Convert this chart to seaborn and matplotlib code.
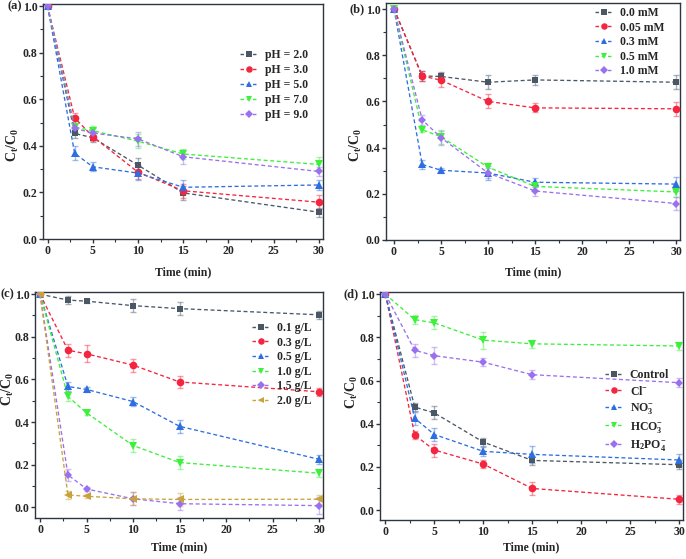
import numpy as np
import matplotlib
matplotlib.use("Agg")
import matplotlib.pyplot as plt
import seaborn as sns
from matplotlib.ticker import MultipleLocator, AutoMinorLocator
from matplotlib.lines import Line2D

sns.set_theme(style="ticks")
plt.rcParams['font.family'] = ['Liberation Serif', 'DejaVu Serif']
plt.rcParams['font.weight'] = 'bold'
plt.rcParams['mathtext.fontset'] = 'custom'
plt.rcParams['mathtext.rm'] = 'Liberation Serif:bold'
plt.rcParams['mathtext.it'] = 'Liberation Serif:bold'
plt.rcParams['mathtext.bf'] = 'Liberation Serif:bold'

time = [0, 3, 5, 10, 15, 30]

# (a) pH
a_labels = ["pH = 2.0", "pH = 3.0", "pH = 5.0", "pH = 7.0", "pH = 9.0"]
a_vals = [
    [1.0, 0.453, 0.435, 0.317, 0.198, 0.115],
    [1.0, 0.520, 0.440, 0.287, 0.207, 0.158],
    [1.0, 0.368, 0.310, 0.283, 0.222, 0.232],
    [1.0, 0.480, 0.465, 0.420, 0.365, 0.320],
    [1.0, 0.475, 0.455, 0.430, 0.353, 0.290],
]
a_err = [
    [0.0, 0.02, 0.02, 0.03, 0.03, 0.02],
    [0.0, 0.02, 0.02, 0.03, 0.03, 0.03],
    [0.0, 0.03, 0.02, 0.03, 0.03, 0.02],
    [0.0, 0.02, 0.02, 0.03, 0.02, 0.03],
    [0.0, 0.02, 0.02, 0.03, 0.03, 0.02],
]

# (b) concentration
b_labels = ["0.0 mM", "0.05 mM", "0.3 mM", "0.5 mM", "1.0 mM"]
b_vals = [
    [1.0, 0.710, 0.708, 0.683, 0.693, 0.683],
    [1.0, 0.710, 0.692, 0.600, 0.572, 0.568],
    [1.0, 0.327, 0.302, 0.290, 0.250, 0.242],
    [1.0, 0.477, 0.447, 0.315, 0.232, 0.208],
    [1.0, 0.520, 0.443, 0.290, 0.212, 0.158],
]
b_err = [
    [0.0, 0.02, 0.02, 0.03, 0.02, 0.03],
    [0.0, 0.02, 0.03, 0.03, 0.02, 0.03],
    [0.0, 0.02, 0.01, 0.03, 0.02, 0.03],
    [0.0, 0.01, 0.03, 0.02, 0.02, 0.02],
    [0.0, 0.02, 0.03, 0.02, 0.02, 0.03],
]

# (c) dosage
c_labels = ["0.1 g/L", "0.3 g/L", "0.5 g/L", "1.0 g/L", "1.5 g/L", "2.0 g/L"]
c_vals = [
    [1.0, 0.972, 0.967, 0.946, 0.932, 0.903],
    [1.0, 0.737, 0.720, 0.667, 0.588, 0.542],
    [1.0, 0.567, 0.553, 0.496, 0.380, 0.225],
    [1.0, 0.520, 0.443, 0.290, 0.210, 0.160],
    [1.0, 0.152, 0.086, 0.040, 0.017, 0.008],
    [1.0, 0.058, 0.052, 0.040, 0.037, 0.038],
]
c_err = [
    [0.0, 0.02, 0.01, 0.03, 0.03, 0.02],
    [0.0, 0.03, 0.04, 0.03, 0.03, 0.02],
    [0.0, 0.02, 0.01, 0.02, 0.03, 0.02],
    [0.0, 0.02, 0.01, 0.03, 0.03, 0.02],
    [0.0, 0.03, 0.01, 0.03, 0.03, 0.04],
    [0.0, 0.02, 0.01, 0.03, 0.03, 0.02],
]

# (d) anions
d_labels = ["Control", r"Cl$^{-}$", r"NO$_{3}^{-}$", r"HCO$_{3}^{-}$", r"H$_{2}$PO$_{4}^{-}$"]
d_vals = [
    [1.0, 0.477, 0.450, 0.315, 0.230, 0.210],
    [1.0, 0.347, 0.278, 0.213, 0.100, 0.050],
    [1.0, 0.425, 0.350, 0.272, 0.258, 0.232],
    [1.0, 0.882, 0.867, 0.787, 0.770, 0.760],
    [1.0, 0.740, 0.715, 0.685, 0.627, 0.590],
]
d_err = [
    [0.0, 0.02, 0.03, 0.02, 0.02, 0.02],
    [0.0, 0.02, 0.03, 0.02, 0.03, 0.02],
    [0.0, 0.03, 0.03, 0.02, 0.04, 0.03],
    [0.0, 0.02, 0.03, 0.04, 0.02, 0.02],
    [0.0, 0.03, 0.04, 0.02, 0.02, 0.02],
]

colors = ['#4a5866', '#f5243f', '#2d6ee0', '#3cf03c', '#9a70ee', '#c9a23c']
markers = ['s', 'o', '^', 'v', 'D', '<']
msizes = [4.5, 5.5, 5.5, 5.5, 4.5, 5.5]
spine_col = '#2e3440'

W, H = 686, 559
fig = plt.figure(figsize=(W / 100, H / 100), dpi=100)

def fx(px):
    return px / W

def fy(py):
    return 1 - py / H

panels = [
    dict(box=(43, 4, 323, 239), labels=a_labels, vals=a_vals, err=a_err, xlim=(-0.5, 30.45), ylim=(0, 1.009),
         tag='(a)', ylab=(-30, 145), xlab_y=272, leg=(240, 49), ls=0.25),
    dict(box=(386, 3, 680, 240), labels=b_labels, vals=b_vals, err=b_err, xlim=(-0.85, 30.4), ylim=(0, 1.026),
         tag='(b)', ylab=(-30, 145), xlab_y=272, leg=(595, 7), ls=0.22),
    dict(box=(35, 292, 323, 518), labels=c_labels, vals=c_vals, err=c_err, xlim=(-0.54, 30.4), ylim=(-0.05, 1.01),
         tag='(c)', ylab=(-27.5, 389), xlab_y=547, leg=(252, 322), ls=0.22),
    dict(box=(380, 292, 683, 520), labels=d_labels, vals=d_vals, err=d_err, xlim=(-0.55, 30.4), ylim=(-0.046, 1.01),
         tag='(d)', ylab=(-28, 392), xlab_y=547, leg=(605, 369), ls=0.3),
]

for p in panels:
    l, t, r, b = p['box']
    ax = fig.add_axes([fx(l), fy(b), (r - l) / W, (b - t) / H])
    handles = []
    for i, (lab, v, e) in enumerate(zip(p['labels'], p['vals'], p['err'])):
        ax.errorbar(time, v, yerr=e, fmt='none', ecolor=colors[i], alpha=0.45,
                    elinewidth=1.0, capsize=2.5, capthick=1.0, zorder=2)
        sns.lineplot(x=time, y=v, ax=ax, color=colors[i], marker=markers[i],
                     markersize=msizes[i], markeredgewidth=0, linewidth=0.95,
                     linestyle=(0, (3, 2)), zorder=3, legend=False)
        handles.append(Line2D([0], [0], color=colors[i], marker=markers[i], markersize=msizes[i] * 0.85,
                              markeredgewidth=0, linewidth=1.0, linestyle=(0, (2.5, 2)), label=lab))
    ax.set_xlim(*p['xlim'])
    ax.set_ylim(*p['ylim'])
    ax.xaxis.set_major_locator(MultipleLocator(5))
    ax.xaxis.set_minor_locator(AutoMinorLocator(2))
    ax.set_yticks([0.0, 0.2, 0.4, 0.6, 0.8, 1.0])
    ax.set_yticklabels(['0.0', '0.2', '0.4', '0.6', '0.8', '1.0'])
    ax.yaxis.set_minor_locator(AutoMinorLocator(2))
    ax.tick_params(axis='both', which='major', direction='out', length=3, width=1.0,
                   color=spine_col, labelsize=8.5, pad=1.5)
    ax.tick_params(axis='y', which='major', pad=0.8)
    ax.tick_params(axis='both', which='minor', direction='out', length=2, width=0.8, color=spine_col)
    for lbl in ax.get_xticklabels() + ax.get_yticklabels():
        lbl.set_fontweight('bold')
    for s in ax.spines.values():
        s.set_color(spine_col)
        s.set_linewidth(1.0)
    hgt = b - t
    wid = r - l
    ax.set_xlabel('Time (min)', fontsize=8.5, fontweight='bold', va='center')
    ax.xaxis.set_label_coords(0.5, (b - p['xlab_y']) / hgt)
    ax.set_ylabel(r'C$_{t}$/C$_{0}$', fontsize=10, fontweight='bold', va='center')
    ax.yaxis.set_label_coords(p['ylab'][0] / wid, (b - p['ylab'][1]) / hgt)
    # panel tag next to the 1.0 tick label
    y1 = (1.0 - p['ylim'][0]) / (p['ylim'][1] - p['ylim'][0])
    ax.text(-21 / wid, y1, p['tag'], transform=ax.transAxes, ha='right', va='center',
            fontsize=9, fontweight='bold')
    lx, ly = p['leg']
    ax.legend(handles=handles, frameon=False, fontsize=8.5, handlelength=1.5, handletextpad=0.6,
              borderaxespad=0, borderpad=0, labelspacing=p['ls'], loc='upper left',
              bbox_to_anchor=(fx(lx), fy(ly)), bbox_transform=fig.transFigure)

fig.savefig('out.png', dpi=100)
